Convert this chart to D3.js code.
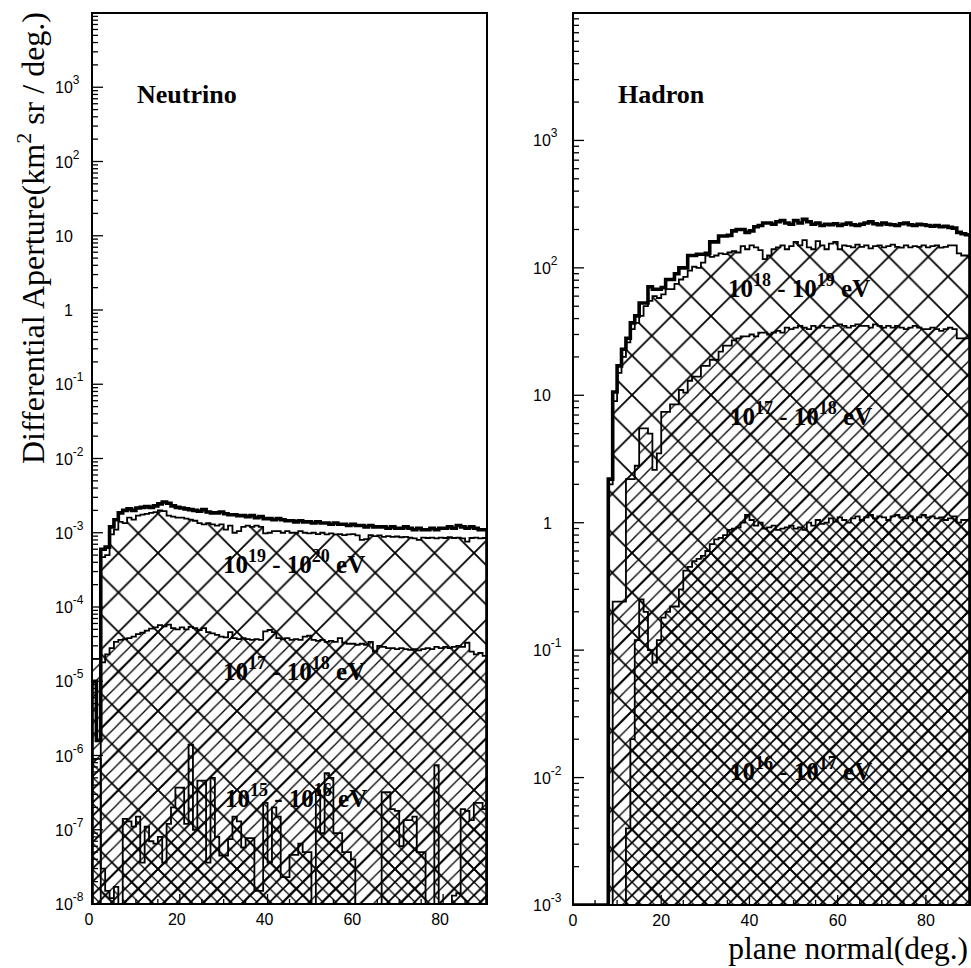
<!DOCTYPE html>
<html>
<head>
<meta charset="utf-8">
<script src="https://cdn.jsdelivr.net/npm/d3@7"></script>
<style>
  body { margin: 0; background: #fff; }
  svg { display: block; }
</style>
</head>
<body>
<svg id="chart" width="971" height="968"></svg>
<script>
// Differential aperture vs. plane-normal angle, 1-degree bins from 0 to 90.
const binLow = d3.range(0, 90);

// ---- Neutrino panel (km^2 sr / deg.) ----
const nuAll = [
  1.0e-5, 1.6e-6, 6.0e-4, 6.4e-4, 1.2e-3, 1.5e-3, 1.85e-3, 2.0e-3, 2.1e-3, 2.0e-3,
  2.15e-3, 2.2e-3, 2.25e-3, 2.2e-3, 2.3e-3, 2.45e-3, 2.6e-3, 2.5e-3, 2.3e-3, 2.2e-3,
  2.15e-3, 2.1e-3, 2.05e-3, 2.0e-3, 1.95e-3, 2.05e-3, 1.9e-3, 1.85e-3, 1.85e-3, 1.9e-3,
  1.8e-3, 1.75e-3, 1.75e-3, 1.7e-3, 1.7e-3, 1.65e-3, 1.7e-3, 1.6e-3, 1.65e-3, 1.55e-3,
  1.55e-3, 1.5e-3, 1.55e-3, 1.5e-3, 1.45e-3, 1.45e-3, 1.4e-3, 1.45e-3, 1.4e-3, 1.4e-3,
  1.35e-3, 1.4e-3, 1.35e-3, 1.35e-3, 1.3e-3, 1.35e-3, 1.3e-3, 1.3e-3, 1.25e-3, 1.3e-3,
  1.25e-3, 1.25e-3, 1.2e-3, 1.25e-3, 1.2e-3, 1.2e-3, 1.2e-3, 1.15e-3, 1.2e-3, 1.15e-3,
  1.15e-3, 1.2e-3, 1.15e-3, 1.1e-3, 1.15e-3, 1.1e-3, 1.1e-3, 1.15e-3, 1.1e-3, 1.15e-3,
  1.15e-3, 1.2e-3, 1.15e-3, 1.25e-3, 1.2e-3, 1.15e-3, 1.2e-3, 1.15e-3, 1.1e-3, 1.1e-3
];
const nu19 = [
  0, 0, 4.7e-4, 5.0e-4, 9.5e-4, 1.1e-3, 1.4e-3, 1.35e-3, 1.6e-3, 1.5e-3,
  1.7e-3, 1.75e-3, 1.8e-3, 1.85e-3, 1.9e-3, 2.0e-3, 1.95e-3, 1.7e-3, 1.65e-3, 1.6e-3,
  1.6e-3, 1.55e-3, 1.5e-3, 1.45e-3, 1.35e-3, 1.3e-3, 1.35e-3, 1.3e-3, 1.25e-3, 1.3e-3,
  1.1e-3, 1.25e-3, 1.0e-3, 1.05e-3, 1.2e-3, 1.25e-3, 1.2e-3, 1.25e-3, 1.2e-3, 9.8e-4,
  1.0e-3, 1.05e-3, 1.05e-3, 1.0e-3, 1.05e-3, 1.0e-3, 1.0e-3, 1.05e-3, 1.0e-3, 9.8e-4,
  1.0e-3, 9.6e-4, 1.0e-3, 9.5e-4, 9.8e-4, 9.5e-4, 9.6e-4, 9.3e-4, 9.5e-4, 9.6e-4,
  9.2e-4, 8.0e-4, 8.2e-4, 9.3e-4, 9.0e-4, 9.2e-4, 8.8e-4, 9.0e-4, 8.8e-4, 8.9e-4,
  8.7e-4, 8.8e-4, 8.6e-4, 8.4e-4, 8.0e-4, 8.6e-4, 8.5e-4, 8.6e-4, 8.4e-4, 8.6e-4,
  8.5e-4, 8.7e-4, 8.5e-4, 8.6e-4, 8.4e-4, 7.6e-4, 8.5e-4, 8.6e-4, 8.4e-4, 8.5e-4
];
const nu17 = [
  2.0e-5, 2.0e-5, 1.8e-5, 2.3e-5, 2.8e-5, 3.4e-5, 3.6e-5, 3.7e-5, 3.8e-5, 4.0e-5,
  4.3e-5, 4.5e-5, 4.8e-5, 5.1e-5, 5.3e-5, 5.7e-5, 5.5e-5, 5.8e-5, 5.2e-5, 5.0e-5,
  5.3e-5, 5.0e-5, 5.4e-5, 5.2e-5, 4.9e-5, 5.2e-5, 4.6e-5, 4.4e-5, 4.2e-5, 4.0e-5,
  3.9e-5, 4.6e-5, 3.8e-5, 3.7e-5, 3.8e-5, 3.7e-5, 3.6e-5, 3.7e-5, 3.6e-5, 4.7e-5,
  4.9e-5, 4.6e-5, 3.8e-5, 3.7e-5, 3.8e-5, 3.6e-5, 3.7e-5, 3.6e-5, 4.0e-5, 4.1e-5,
  3.6e-5, 3.5e-5, 3.6e-5, 3.4e-5, 3.5e-5, 3.4e-5, 3.8e-5, 3.3e-5, 3.2e-5, 3.2e-5,
  3.1e-5, 3.2e-5, 3.1e-5, 3.4e-5, 2.5e-5, 3.0e-5, 2.9e-5, 2.8e-5, 2.8e-5, 2.7e-5,
  2.8e-5, 2.7e-5, 2.65e-5, 2.7e-5, 2.6e-5, 2.7e-5, 2.8e-5, 2.7e-5, 2.9e-5, 2.8e-5,
  2.9e-5, 2.8e-5, 2.9e-5, 3.0e-5, 2.9e-5, 3.3e-5, 2.5e-5, 2.3e-5, 2.4e-5, 2.2e-5
];
const nu15 = [
  9.0e-7, 9.0e-7, 3.0e-8, 1.5e-8, 1.2e-8, 1.7e-8, 0, 1.4e-7, 1.3e-7, 1.1e-7,
  1.5e-7, 3.6e-8, 1.1e-7, 7.0e-8, 6.5e-8, 8.0e-8, 3.6e-8, 1.2e-7, 2.0e-7, 3.7e-7,
  3.7e-7, 1.2e-7, 1.4e-6, 1.0e-7, 4.6e-7, 4.6e-7, 3.6e-8, 5.0e-7, 8.0e-8, 4.5e-8,
  4.5e-8, 7.5e-8, 1.5e-7, 1.3e-7, 5.8e-8, 7.7e-8, 7.7e-8, 1.5e-8, 1.5e-8, 2.3e-7,
  3.6e-8, 2.0e-7, 1.5e-7, 2.3e-8, 2.3e-8, 4.6e-8, 4.6e-8, 6.5e-8, 5.0e-8, 5.0e-8,
  0, 3.4e-7, 9.0e-8, 5.8e-7, 5.0e-7, 9.0e-8, 9.0e-8, 5.0e-8, 5.0e-8, 4.0e-8,
  0, 0, 0, 0, 0, 0, 3.2e-7, 3.2e-7, 1.9e-7, 1.8e-7,
  6.0e-8, 1.35e-7, 1.35e-7, 1.5e-7, 5.0e-8, 5.0e-8, 0, 0, 7.4e-7, 0,
  0, 0, 1.3e-8, 1.4e-8, 1.9e-7, 1.8e-7, 1.35e-7, 2.3e-7, 2.3e-7, 1.9e-7
];

// ---- Hadron panel (km^2 sr / deg.) ----
const hadAll = [
  0, 0, 0, 0, 0, 0, 0, 0, 2.2, 10.6,
  17, 23, 28, 37, 42, 53, 53, 71, 68, 68,
  70, 81, 81, 90, 100, 100, 125, 125, 128, 128,
  130, 160, 160, 178, 178, 180, 195, 200, 200, 190,
  195, 210, 215, 225, 225, 220, 230, 235, 225, 220,
  235, 225, 240, 230, 220, 225, 215, 220, 218, 222,
  215, 220, 225, 218, 215, 220, 225, 230, 222, 218,
  225, 220, 218, 215, 222, 225, 218, 215, 220, 218,
  215, 212, 215, 210, 212, 208, 205, 190, 185, 182
];
const had18 = [
  0, 0, 0, 0, 0, 0, 0, 0, 2.0, 9.0,
  15, 20, 26, 33, 37, 42, 50, 55, 60, 58,
  62, 68, 68, 75, 81, 85, 95, 102, 100, 110,
  125, 122, 125, 130, 128, 132, 135, 132, 148, 140,
  150, 145, 138, 117, 125, 140, 145, 150, 140, 148,
  160, 150, 165, 145, 140, 162, 150, 140, 155, 160,
  140, 150, 148, 145, 152, 146, 150, 142, 148, 150,
  145, 148, 152, 146, 144, 150, 145, 148, 146, 150,
  145, 148, 150, 144, 146, 150, 150, 130, 125, 125
];
const had17 = [
  0, 0, 0, 0, 0, 0, 0, 0, 0, 0.24,
  0.24, 0.24, 2.2, 2.2, 2.8, 5.5, 5.5, 5.0, 2.6, 3.5,
  7.4, 7.4, 8.5, 8.5, 11, 10.5, 13, 14, 14, 17,
  17, 19, 19, 22, 24.5, 24.5, 27, 28, 29, 29,
  30, 29, 31, 31, 30, 31, 32, 31, 34, 33,
  34, 35, 34, 33, 35, 34, 35, 34, 34, 35,
  36, 35, 34, 35, 36, 35, 35, 34, 36, 35,
  34, 35, 34, 35, 34, 33, 34, 35, 34, 33,
  33, 34, 33, 32, 33, 34, 33, 28, 28, 28
];
const had16 = [
  0, 0, 0, 0, 0, 0, 0, 0, 0, 0,
  0, 0, 0.004, 0.02, 0.12, 0.25, 0.2, 0.1, 0.08, 0.12,
  0.18, 0.2, 0.22, 0.22, 0.3, 0.42, 0.45, 0.5, 0.52, 0.55,
  0.6, 0.68, 0.74, 0.76, 0.8, 0.88, 0.9, 0.92, 1.0, 1.15,
  1.05, 0.95, 1.0, 0.9, 0.92, 0.95, 0.88, 0.9, 0.92, 0.95,
  0.9, 0.92, 0.88, 1.0, 0.95, 1.05, 0.98, 1.0, 1.08, 1.02,
  1.1, 1.05, 1.0, 1.08, 1.12, 1.05, 1.1, 1.15, 1.08, 1.12,
  1.1, 1.05, 1.12, 1.15, 1.1, 1.08, 1.12, 1.05, 1.1, 1.15,
  1.1, 1.12, 1.08, 1.1, 1.05, 1.08, 1.12, 1.0, 1.05, 1.05
];

// Axis ticks and their labels (base and exponent).
const nuYTicks = [1e-8, 1e-7, 1e-6, 1e-5, 1e-4, 1e-3, 1e-2, 1e-1, 1, 10, 1e2, 1e3];
const nuYLabels = [["10","-8"],["10","-7"],["10","-6"],["10","-5"],["10","-4"],["10","-3"],
                   ["10","-2"],["10","-1"],["1",""],["10",""],["10","2"],["10","3"]];
const hadYTicks = [1e-3, 1e-2, 1e-1, 1, 10, 1e2, 1e3];
const hadYLabels = [["10","-3"],["10","-2"],["10","-1"],["1",""],["10",""],["10","2"],["10","3"]];
const xTicks = [0, 20, 40, 60, 80];
const xTickLabels = ["0", "20", "40", "60", "80"];

const svg = d3.select("#chart");
const defs = svg.append("defs");
svg.append("rect").attr("width", 971).attr("height", 968).attr("fill", "#fff");

// Hatch fills: wide cross, single forward slash, fine cross.
// The fine pitch is a third of the wide pitch and all share the same origin,
// so every third fine stroke lies on a wide stroke.
function hatch(id, P, sw, dirs) {
  const p = defs.append("pattern").attr("id", id)
    .attr("patternUnits", "userSpaceOnUse").attr("width", P).attr("height", P);
  let d = "";
  if (dirs.includes("/")) d += `M${-P/2},${P/2}L${P/2},${-P/2}M0,${P}L${P},0M${P/2},${1.5*P}L${1.5*P},${P/2}`;
  if (dirs.includes("\\")) d += `M${-P/2},${P/2}L${P/2},${1.5*P}M0,0L${P},${P}M${P/2},${-P/2}L${1.5*P},${P/2}`;
  p.append("path").attr("d", d).attr("stroke", "#000").attr("stroke-width", sw).attr("fill", "none");
}
const widePitch = 39.5;
hatch("wideX", widePitch, 1.8, "/\\");
hatch("slash", widePitch / 3, 1.3, "/");
hatch("fineX", widePitch / 3, 1.3, "/\\");

const sans = "'Liberation Sans', Arial, Helvetica, sans-serif";
const serif = "'Liberation Serif', 'Times New Roman', Times, serif";

function supText(g, x, y, parts, size, supSize, rise, anchor, weight) {
  const t = g.append("text").attr("x", x).attr("y", y)
    .attr("font-family", parts.font).attr("font-size", size)
    .attr("font-weight", weight || "normal").attr("text-anchor", anchor || "start").attr("fill", "#000");
  let raised = false;
  parts.items.forEach(([s, sup]) => {
    if (!s) return;
    const ts = t.append("tspan").text(s);
    if (sup && !raised) { ts.attr("font-size", supSize).attr("dy", -rise); raised = true; }
    else if (!sup && raised) { ts.attr("dy", rise); raised = false; }
  });
  return t;
}

function drawPanel(cfg) {
  const { x, y, series, yTicks, yLabels, labelX, oneX, title, titleX, energy } = cfg;
  const [x0, x1] = x.range();
  const [yb, yt] = y.range();
  const ymin = y.domain()[0];
  const clipId = cfg.id + "-clip";
  defs.append("clipPath").attr("id", clipId).append("rect")
    .attr("x", x0).attr("y", yt).attr("width", x1 - x0).attr("height", yb - yt);

  const body = svg.append("g").attr("clip-path", `url(#${clipId})`);

  const stepPts = vals => {
    const pts = [];
    vals.forEach((v, i) => {
      const vv = v > ymin ? v : ymin;
      pts.push([binLow[i], vv], [binLow[i] + 1, vv]);
    });
    return pts;
  };
  const area = d3.area().x(d => x(d[0])).y0(y(ymin)).y1(d => y(d[1]));
  const line = d3.line().x(d => x(d[0])).y(d => y(d[1]));

  series.forEach(s => {
    if (s.fill) body.append("path").attr("d", area(stepPts(s.values))).attr("fill", `url(#${s.fill})`);
  });
  series.forEach(s => {
    const pts = stepPts(s.values);
    pts.unshift([binLow[0], ymin]);
    pts.push([binLow[binLow.length - 1] + 1, ymin]);
    body.append("path").attr("d", line(pts)).attr("fill", "none")
      .attr("stroke", "#000").attr("stroke-width", s.width).attr("stroke-linejoin", "miter");
  });

  // Energy-range labels, drawn over the hatching.
  energy.forEach(e => {
    supText(svg, e.x, e.y, { font: serif, items: [["10", false], [e.a, true], [" - 10", false], [e.b, true], [" eV", false]] },
      25, 18, 11, "start", "bold");
  });

  // Frame
  svg.append("rect").attr("x", x0).attr("y", yt).attr("width", x1 - x0).attr("height", yb - yt)
    .attr("fill", "none").attr("stroke", "#000").attr("stroke-width", 2);

  // Y ticks, major and minor, pointing inward
  const ticks = svg.append("g").attr("stroke", "#000").attr("stroke-width", 1.3);
  yTicks.forEach(v => ticks.append("line").attr("x1", x0).attr("x2", x0 + 11).attr("y1", y(v)).attr("y2", y(v)));
  const [d0, d1] = y.domain();
  for (let e = Math.round(Math.log10(d0)); e < Math.round(Math.log10(d1)); e++) {
    for (let m = 2; m <= 9; m++) {
      const v = m * Math.pow(10, e);
      ticks.append("line").attr("x1", x0).attr("x2", x0 + 6).attr("y1", y(v)).attr("y2", y(v));
    }
  }
  // X ticks
  d3.range(0, 91, 5).forEach(v => {
    const major = v % 20 === 0;
    ticks.append("line").attr("x1", x(v)).attr("x2", x(v)).attr("y1", yb).attr("y2", yb - (major ? 10 : 5));
  });

  // Y tick labels
  yTicks.forEach((v, i) => {
    const [b, ex] = yLabels[i];
    const lx = b === "1" ? oneX : labelX;
    supText(svg, lx, y(v) + 6, { font: sans, items: [[b, false], [ex, true]] }, 16, 12, 9, "start");
  });
  // X tick labels
  xTicks.forEach((v, i) => {
    svg.append("text").attr("x", x(v) + cfg.xLabelShift).attr("y", yb + 21)
      .attr("font-family", sans).attr("font-size", 16).attr("text-anchor", "middle").text(xTickLabels[i]);
  });

  svg.append("text").attr("x", titleX).attr("y", 103).attr("font-family", serif)
    .attr("font-size", 26).attr("font-weight", "bold").text(title);
}

const xL = d3.scaleLinear().domain([0, 90]).range([92, 487]);
const yL = d3.scaleLog().domain([1e-8, 1e4]).range([904, 13]);
const xR = d3.scaleLinear().domain([0, 90]).range([573, 970]);
const yR = d3.scaleLog().domain([1e-3, 1e4]).range([905, 13]);

drawPanel({
  id: "nu", x: xL, y: yL, yTicks: nuYTicks, yLabels: nuYLabels, labelX: 55, oneX: 64, xLabelShift: -3,
  title: "Neutrino", titleX: 137,
  series: [
    { values: nu15, fill: "fineX", width: 1.8 },
    { values: nu17, fill: "slash", width: 1.8 },
    { values: nu19, fill: "wideX", width: 1.8 },
    { values: nuAll, fill: null, width: 3.6 }
  ],
  energy: [
    { x: 223, y: 573, a: "19", b: "20" },
    { x: 223, y: 680, a: "17", b: "18" },
    { x: 225, y: 807, a: "15", b: "16" }
  ]
});

drawPanel({
  id: "had", x: xR, y: yR, yTicks: hadYTicks, yLabels: hadYLabels, labelX: 533, oneX: 543, xLabelShift: 0,
  title: "Hadron", titleX: 618,
  series: [
    { values: had16, fill: "fineX", width: 1.8 },
    { values: had17, fill: "slash", width: 1.8 },
    { values: had18, fill: "wideX", width: 1.8 },
    { values: hadAll, fill: null, width: 3.6 }
  ],
  energy: [
    { x: 728, y: 297, a: "18", b: "19" },
    { x: 730, y: 425, a: "17", b: "18" },
    { x: 730, y: 780, a: "16", b: "17" }
  ]
});

// Axis titles
const yTitle = svg.append("text").attr("transform", "translate(44,238) rotate(-90)")
  .attr("font-family", serif).attr("font-size", 32).attr("text-anchor", "middle").attr("fill", "#000");
yTitle.append("tspan").text("Differential Aperture(km");
yTitle.append("tspan").text("2").attr("font-size", 22).attr("dy", -13);
yTitle.append("tspan").text(" sr / deg.)").attr("dy", 13);

svg.append("text").attr("x", 968).attr("y", 959).attr("font-family", serif).attr("font-size", 31.5)
  .attr("text-anchor", "end").attr("fill", "#000").text("plane normal(deg.)");
</script>
</body>
</html>
